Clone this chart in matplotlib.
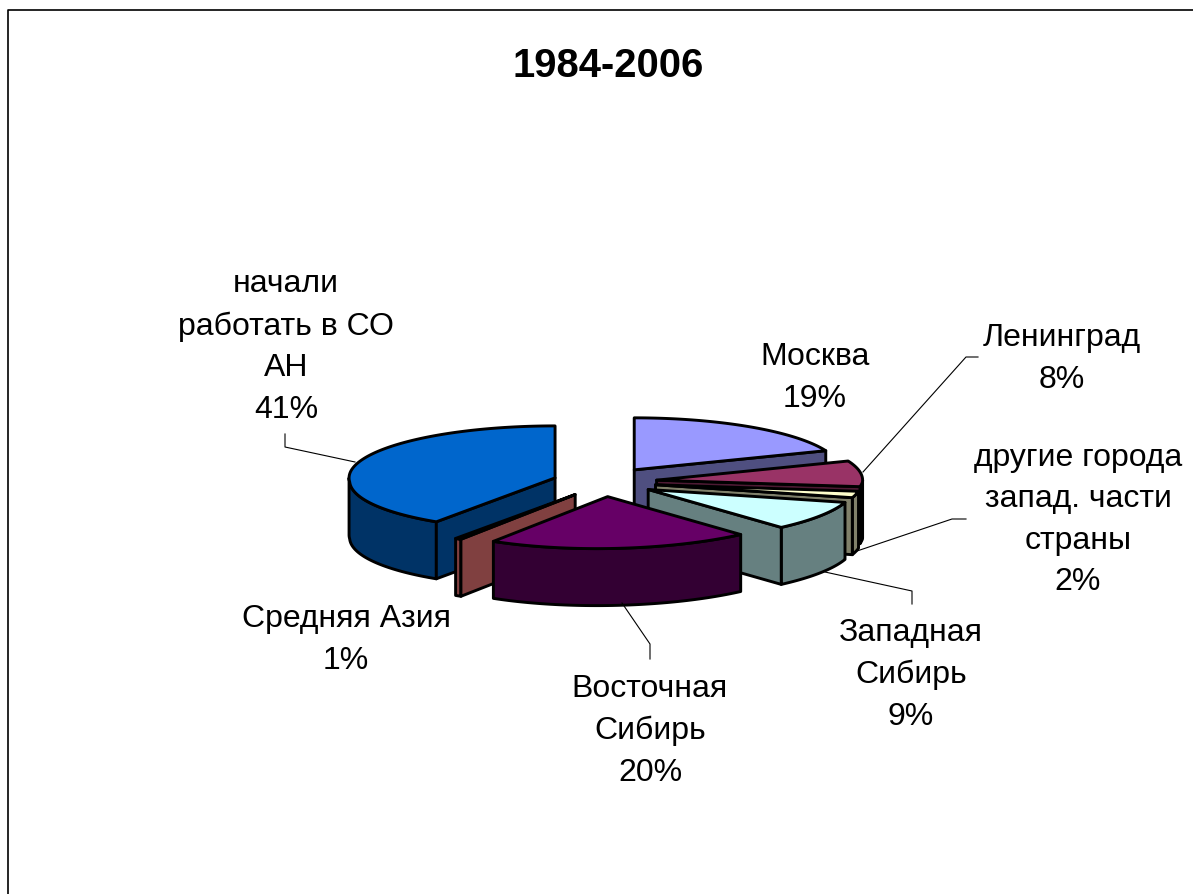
import numpy as np
import matplotlib
matplotlib.use('Agg')
import matplotlib.pyplot as plt
from matplotlib.patches import Polygon

plt.rcParams['font.family'] = ['Liberation Sans', 'DejaVu Sans']

names = ['Москва', 'Ленинград', 'другие города\nзапад. части\nстраны', 'Западная\nСибирь',
         'Восточная\nСибирь', 'Средняя Азия', 'начали\nработать в СО\nАН']
# unrounded shares as they look in the slices, the labels show them rounded
values = [19, 8, 2, 9, 20.5, 0.5, 41]
percents = ['19%', '8%', '2%', '9%', '20%', '1%', '41%']
top_colors = ['#9999FF', '#993366', '#FFFFCC', '#CCFFFF', '#660066', '#FF8080', '#0066CC']
side_colors = ['#4F4F80', '#4D1A33', '#80806A', '#668080', '#330033', '#804040', '#003366']
label_pos = [(815, 378), (1062, 359), (1078, 520), (911, 675), (650, 731), (346, 640), (286, 347)]

# order the slices are painted in, back to front
paint_order = [0, 1, 2, 3, 6, 5, 4]

cx, cy = 605, 483
rx, ry = 206, 52
ex, ey = 52, 14.7
depth = 57
shear = 0.21  # front of the pie leans left, as in the perspective of the original
lw = 2.1


def lean(x, y):
    return x - shear * np.maximum(y - cy, 0)


def pt(ang, ox, oy):
    a = np.radians(ang)
    x = ox + rx * np.sin(a)
    y = oy - ry * np.cos(a)
    return lean(x, y), y


def draw_slice(ax, a0, a1, top, side):
    mid = np.radians((a0 + a1) / 2)
    ox = cx + ex * np.sin(mid)
    oy = cy - ey * np.cos(mid)
    ax0 = lean(ox, oy)

    # rim wall, only the front half of the pie shows
    w0, w1 = max(a0, 90), min(a1, 270)
    if w1 > w0:
        xs, ys = pt(np.linspace(w0, w1, 60), ox, oy)
        poly = np.r_[np.c_[xs, ys], np.c_[xs, ys + depth][::-1]]
        ax.add_patch(Polygon(poly, fc=side, ec='black', lw=lw, joinstyle='round'))

    # cut faces that turn towards the viewer
    for ang, normal in ((a0, a0 - 90), (a1, a1 + 90)):
        if np.cos(np.radians(normal)) < 0:
            x, y = pt(ang, ox, oy)
            face = [(ax0, oy), (x, y), (x, y + depth), (ax0, oy + depth)]
            ax.add_patch(Polygon(face, fc=side, ec='black', lw=lw, joinstyle='round'))

    xs, ys = pt(np.linspace(a0, a1, 120), ox, oy)
    poly = np.r_[[(ax0, oy)], np.c_[xs, ys]]
    ax.add_patch(Polygon(poly, fc=top, ec='black', lw=lw, joinstyle='round'))


fig = plt.figure(figsize=(11.93, 8.95), dpi=100)
ax = fig.add_axes([0, 0, 1, 1])
ax.set_xlim(0, 1193)
ax.set_ylim(895, 0)
ax.axis('off')

ax.plot([8, 8, 1193], [895, 10.5, 10.5], color='black', lw=1.2)

edges = np.r_[0, np.cumsum(values)] * 3.6
for i in paint_order:
    draw_slice(ax, edges[i], edges[i + 1], top_colors[i], side_colors[i])

# leader lines
leaders = [([285, 285, 355], [435, 448, 463]),
           ([978, 966, 863], [358, 358, 473]),
           ([966, 952, 857], [520, 520, 552]),
           ([912, 912, 825], [605, 592, 573]),
           ([650, 650, 622], [660, 645, 604])]
for lx, ly in leaders:
    ax.plot(lx, ly, color='black', lw=0.8)

ax.text(608, 66, '1984-2006', ha='center', va='center', fontsize=28.8, fontweight='bold')

for name, p, (x, y) in zip(names, percents, label_pos):
    ax.text(x, y, f'{name}\n{p}', ha='center', va='center', fontsize=23, linespacing=1.5)

fig.savefig('out.png', dpi=100)
